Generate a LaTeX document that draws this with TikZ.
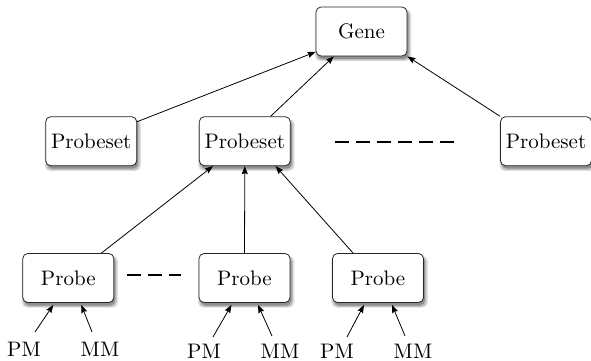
\documentclass[tikz,border=0pt]{standalone}
\usepackage{fontspec}
\setmainfont{lmroman10-regular}[Extension=.otf]
\usetikzlibrary{arrows.meta,calc,shadows}
\tikzset{
  softshadow/.style={
    drop shadow={shadow xshift=1.5pt, shadow yshift=-3.5pt, opacity=0.12, fill=black, shadow scale=1.06},
    drop shadow={shadow xshift=1.5pt, shadow yshift=-3.5pt, opacity=0.15, fill=black, shadow scale=1.03},
    drop shadow={shadow xshift=1.5pt, shadow yshift=-3pt, opacity=0.25, fill=black}},
  box/.style={draw=black!85, line width=0.8pt, rounded corners=5pt, fill=white,
    minimum width=91pt, minimum height=49pt, inner sep=0pt,
    font=\fontsize{21}{25}\selectfont, softshadow},
  lbl/.style={inner sep=0pt, anchor=base, font=\fontsize{21}{25}\selectfont},
  arr/.style={line width=0.8pt, -{Stealth[length=8pt,width=6pt,inset=1pt]}},
  ell/.style={line width=2pt, dash pattern=on 14pt off 7pt}
}
\begin{document}
\begin{tikzpicture}[x=1pt,y=-1pt]
\useasboundingbox (0,0) rectangle (591,361);
% nodes
\node[box] (gene) at (361.5,31.5) {Gene};
\node[box] (ps1) at (91.2,141.2) {Probeset};
\node[box] (ps2) at (244.8,141.2) {Probeset};
\node[box] (ps3) at (546,141.2) {Probeset};
\node[box] (pb1) at (68.3,278) {Probe};
\node[box] (pb2) at (244.5,278) {Probe};
\node[box] (pb3) at (378,278) {Probe};
% labels
\node[lbl] (pm1) at (24,356.5) {PM};
\node[lbl] (mm1) at (100,356.5) {MM};
\node[lbl] (pm2) at (204,358.5) {PM};
\node[lbl] (mm2) at (280,358.5) {MM};
\node[lbl] (pm3) at (337,358.5) {PM};
\node[lbl] (mm3) at (413,358.5) {MM};
% ellipses
\draw[ell] (335,142) -- (458,142);
\draw[ell] (127,275) -- (181,275);
% connectors upper
\draw[arr] (ps1.23) -- (gene.204);
\draw[arr] (ps2.44) -- (gene.222);
\draw[arr] (ps3.north west) -- (gene.south east);
\draw[arr] (pb1.37) -- (ps2.218);
\draw[arr] (pb2.north) -- (ps2.south);
\draw[arr] (pb3.135) -- (ps2.321);
% PM / MM arrows
\draw[arr] ($(pm1.north)+(11,-10)$) -- ($(pb1.south)+(-15,2)$);
\draw[arr] ($(mm1.north)+(-8,-10)$) -- ($(pb1.south)+(13,2)$);
\draw[arr] ($(pm2.north)+(9,-7)$) -- ($(pb2.south)+(-13,2)$);
\draw[arr] ($(mm2.north)+(-8,-8)$) -- ($(pb2.south)+(13.5,2)$);
\draw[arr] ($(pm3.north)+(10,-7)$) -- ($(pb3.south)+(-14,2)$);
\draw[arr] ($(mm3.north)+(-8,-8)$) -- ($(pb3.south)+(14,2)$);
\end{tikzpicture}
\end{document}
